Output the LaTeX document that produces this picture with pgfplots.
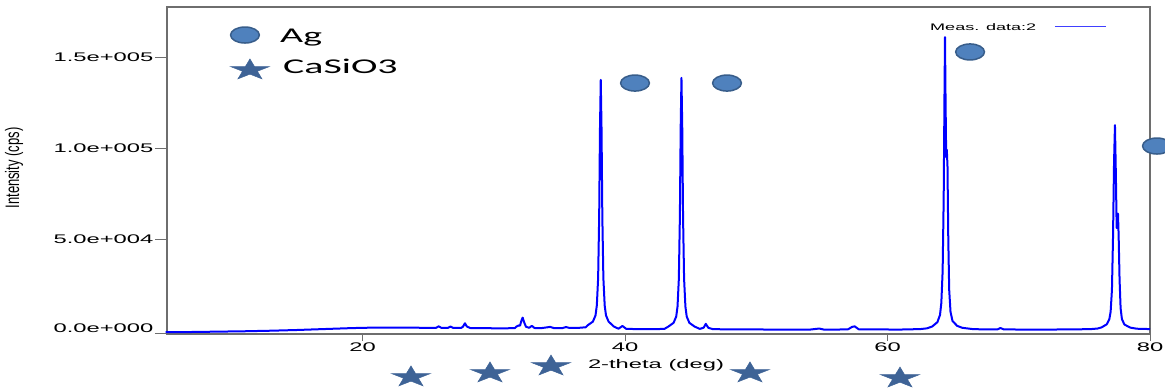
\documentclass[border=0pt]{standalone}
\usepackage{fontspec}
\usepackage{graphicx}
\usepackage{pgfplots}
\pgfplotsset{compat=1.18}
\newfontfamily\tickfont[FakeStretch=1.9]{Liberation Sans}
\newfontfamily\legfont[FakeStretch=1.9]{Carlito}
\newfontfamily\plainsans{Liberation Sans}
\definecolor{agfill}{RGB}{79,129,189}
\definecolor{agedge}{RGB}{56,93,138}
\definecolor{starfill}{RGB}{62,99,150}
\definecolor{framec}{RGB}{110,110,110}
\pgfdeclareplotmark{fstar}{%
  \pgfpathmoveto{\pgfpointpolar{90}{\pgfplotmarksize}}%
  \pgfpathlineto{\pgfpointpolar{126}{0.382*\pgfplotmarksize}}%
  \pgfpathlineto{\pgfpointpolar{162}{\pgfplotmarksize}}%
  \pgfpathlineto{\pgfpointpolar{198}{0.382*\pgfplotmarksize}}%
  \pgfpathlineto{\pgfpointpolar{234}{\pgfplotmarksize}}%
  \pgfpathlineto{\pgfpointpolar{270}{0.382*\pgfplotmarksize}}%
  \pgfpathlineto{\pgfpointpolar{306}{\pgfplotmarksize}}%
  \pgfpathlineto{\pgfpointpolar{342}{0.382*\pgfplotmarksize}}%
  \pgfpathlineto{\pgfpointpolar{18}{\pgfplotmarksize}}%
  \pgfpathlineto{\pgfpointpolar{54}{0.382*\pgfplotmarksize}}%
  \pgfpathclose
  \pgfusepathqfillstroke}
\begin{document}
\begin{tikzpicture}
\useasboundingbox (0,0) rectangle (1165pt,391pt);
\begin{axis}[
  at={(167pt,57pt)}, anchor=south west,
  scale only axis, width=983pt, height=327pt,
  xmin=5.1, xmax=80, ymin=-2200, ymax=177500,
  clip=false,
  scaled x ticks=false, scaled y ticks=false,
  axis line style={draw=framec, line width=1.2pt},
  tick align=outside, major tick length=12pt,
  tick style={draw=framec, line width=1pt},
  xtick pos=bottom, ytick pos=left,
  xtick=\empty,
  extra x ticks={20,40,60,80},
  extra x tick labels={20,40,60,80},
  extra x tick style={major tick length=7pt, xtick pos=bottom},
  ytick={50000,100000,150000},
  yticklabels={5.0e+004,1.0e+005,1.5e+005},
  extra y ticks={-2200},
  extra y tick labels={0.0e+000},
  extra y tick style={yticklabel style={yshift=6pt}, ytick pos=left},
  tick label style={font=\fontsize{12.5}{14}\tickfont},
  yticklabel style={inner sep=1.5pt},
  xticklabel style={inner sep=2pt},
]
\addplot[color=blue, line width=2pt, line join=round] coordinates {
(5,-1200) (6,-1150) (7,-1100) (8,-1000) (9,-900) (10,-800) (11,-700) (12,-550) (13,-400) (14,-200) (15,0) (16,250) (17,500) (18,750) (19,1000) (20,1200) (21,1300) (22,1350) (23,1300) (24,1250) (25,1200) (25.6,1200) (25.8,2000) (26.0,1200) (26.5,1150) (26.7,1900) (26.9,1150) (27.5,1100) (27.65,1800) (27.8,3700) (27.95,1900) (28.2,1100) (29,1000) (30,950) (31,950) (31.6,1000) (31.75,2000) (31.9,2500) (32.0,2400) (32.1,5000) (32.2,6800) (32.3,4500) (32.45,1800) (32.7,1200) (32.9,2300) (33.1,1100) (33.6,1000) (34.3,1700) (34.6,1000) (35.2,1000) (35.5,1600) (35.8,1100) (36.5,1200) (37.0,1500)
(37.15,2560) (37.55,4600) (37.75,8000) (37.85,13460) (37.95,28440) (38.03,62490) (38.09,110160) (38.15,137400) (38.21,110160) (38.27,62490) (38.35,28440) (38.45,13460) (38.55,8000) (38.75,4600) (39.15,1900)
(39.5,700) (39.8,2200) (40.1,600) (41,500) (42,450) (43,600)
(43.3,1880) (43.7,3950) (43.9,7400) (44.0,12920) (44.1,28100) (44.18,62600) (44.24,110900) (44.3,138500) (44.36,110900) (44.42,62600) (44.5,28100) (44.6,12920) (44.7,7400) (44.9,3950) (45.3,1880)
(45.7,600) (46.0,1300) (46.15,3400) (46.35,1200) (46.7,450) (48,350) (50,300) (52,200) (54,150) (54.8,800) (55.2,150) (56,200) (57.0,400) (57.3,1700) (57.5,2000) (57.8,400) (59,300) (61,250) (62.5,500) (63.0,900)
(63.4,1900) (63.8,4300) (64.0,8300) (64.1,14800) (64.2,32300) (64.28,72300) (64.34,128300) (64.38,161000) (64.42,128000) (64.47,95000) (64.52,99000) (64.57,90000) (64.63,50000) (64.7,22000) (64.8,10000) (64.95,5000) (65.3,2300) (65.7,1200)
(66.5,500) (67.5,300) (68.4,400) (68.6,1100) (68.85,350) (70,250) (72,250) (74,300) (75.5,500) (76.0,800)
(76.3,1400) (76.7,3100) (76.9,5900) (77.0,10000) (77.1,22000) (77.18,50000) (77.26,92000) (77.33,112600) (77.4,85000) (77.46,56000) (77.52,62000) (77.56,64000) (77.61,52000) (77.68,28000) (77.76,12000) (77.86,6000) (78.05,3000) (78.5,1300) (79,700) (80,500)
};
% Ag markers (and legend symbol)
\addplot[only marks, mark=*, mark size=8pt,
  mark options={xscale=1.8, fill=agfill, draw=agedge, line width=1.5pt}]
  coordinates {(40.76,135700) (47.77,135700) (66.29,152800) (80.53,101100) (11.04,162100)};
% CaSiO3 markers (and legend symbol)
\addplot[only marks, mark=fstar, mark size=11pt,
  mark options={xscale=1.86, fill=starfill, draw=starfill, line width=0.5pt}]
  coordinates {(23.69,-25800) (29.71,-23600) (34.36,-19800) (49.52,-23600) (60.95,-26400) (11.42,142900)};
% legend line for measured data
\addplot[color=blue!75!white, line width=1.2pt] coordinates {(72.76,166700) (76.65,166700)};
\end{axis}
\node[anchor=base west, inner sep=0] at (280pt,348.7pt) {\fontsize{21}{24}\legfont Ag};
\node[anchor=base west, inner sep=0] at (283pt,317.7pt) {\fontsize{21}{24}\legfont CaSiO3};
\node[anchor=base west, inner sep=0] at (930pt,360.3pt) {\fontsize{9.5}{11}\tickfont Meas. data:2};
\node[rotate=90, inner sep=0] at (14pt,223pt) {\scalebox{1}[1.5]{\fontsize{13}{15}\plainsans Intensity (cps)}};
\node[inner sep=0] at (656pt,26pt) {\fontsize{12.5}{14}\tickfont 2-theta (deg)};
\end{tikzpicture}
\end{document}
